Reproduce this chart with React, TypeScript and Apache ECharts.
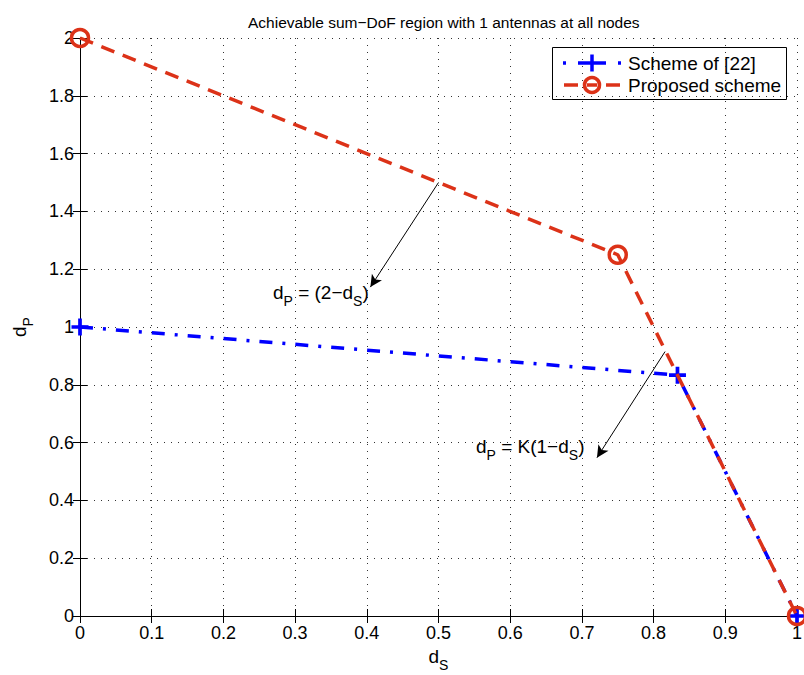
import React, { useEffect, useRef } from "react";
import * as echarts from "echarts";

// Achievable sum-DoF corner points (d_S, d_P)
const schemeDs = [0, 0.8333, 1];
const schemeDp = [1, 0.8333, 0];
const proposedDs = [0, 0.75, 1];
const proposedDp = [2, 1.25, 0];

// Annotation arrows: [from, to] in data coordinates
const arrowFrom = [
  [0.5, 1.5],
  [0.816, 0.915],
];
const arrowTo = [
  [0.405, 1.138],
  [0.721, 0.548],
];

const titleText = "Achievable sum\u2212DoF region with 1 antennas at all nodes";
const legendNames = ["Scheme of [22]", "Proposed scheme"];

const FONT = "'Liberation Sans', Arial, Helvetica, sans-serif";
const BLUE = "#0000ff";
const RED = "#dc3218";

const plusPath =
  "path://M0 6.25 L16 6.25 L16 9.75 L0 9.75 Z M6.25 0 L9.75 0 L9.75 16 L6.25 16 Z";

const subRich = {
  n: { fontSize: 19, lineHeight: 32, fontFamily: FONT, color: "#000" },
  s: {
    fontSize: 14,
    lineHeight: 14,
    verticalAlign: "bottom",
    fontFamily: FONT,
    color: "#000",
  },
};

export default function App() {
  const ref = useRef<HTMLDivElement>(null);

  useEffect(() => {
    if (!ref.current) return;
    const chart = echarts.init(ref.current, undefined, { renderer: "svg" });

    const axisCommon = {
      type: "value" as const,
      axisLine: { show: true, lineStyle: { color: "#000", width: 1 } },
      axisTick: {
        show: true,
        inside: true,
        length: 7,
        lineStyle: { color: "#000", width: 1 },
      },
    };

    const legendX0 = 564;
    const legendX1 = 620;
    const legendCx = 592;
    const row1 = 63;
    const row2 = 85;

    const option: any = {
      animation: false,
      backgroundColor: "#fff",
      textStyle: { fontFamily: FONT },
      title: {
        text: titleText,
        left: 243,
        top: 9,
        textStyle: {
          fontSize: 15.5,
          fontWeight: "normal",
          color: "#000",
          fontFamily: FONT,
        },
      },
      grid: {
        left: 80,
        top: 38,
        width: 717,
        height: 578,
        containLabel: false,
        outerBoundsMode: "none",
      },
      xAxis: [
        {
          ...axisCommon,
          position: "bottom",
          min: 0,
          max: 1,
          interval: 0.1,
          axisLabel: { fontSize: 18, color: "#000", margin: 8, fontFamily: FONT },
          splitLine: {
            show: true,
            lineStyle: { color: "#333", width: 1, type: [1, 6] },
          },
          name: "{n|d}{s|S}",
          nameLocation: "middle",
          nameGap: 22,
          nameTextStyle: { rich: subRich },
        },
        {
          ...axisCommon,
          position: "top",
          min: 0,
          max: 1,
          interval: 0.1,
          axisLabel: { show: false },
          splitLine: { show: false },
        },
      ],
      yAxis: [
        {
          ...axisCommon,
          position: "left",
          min: 0,
          max: 2,
          interval: 0.2,
          axisLabel: { fontSize: 18, color: "#000", margin: 6, fontFamily: FONT },
          splitLine: {
            show: true,
            lineStyle: { color: "#333", width: 1, type: [1, 6] },
          },
          name: "{n|d}{s|P}",
          nameLocation: "middle",
          nameGap: 45,
          nameRotate: 90,
          nameTextStyle: { rich: subRich },
        },
        {
          ...axisCommon,
          position: "right",
          min: 0,
          max: 2,
          interval: 0.2,
          axisLabel: { show: false },
          splitLine: { show: false },
        },
      ],
      series: [
        {
          name: legendNames[0],
          type: "line",
          xAxisIndex: 0,
          yAxisIndex: 0,
          data: schemeDs.map((x, i) => [x, schemeDp[i]]),
          clip: false,
          symbol: plusPath,
          symbolSize: 17,
          showAllSymbol: true,
          itemStyle: { color: BLUE },
          lineStyle: { color: BLUE, width: 3.5, type: [13, 10, 3, 10], cap: "butt" },
          emphasis: { disabled: true },
          z: 3,
        },
        {
          name: legendNames[1],
          type: "line",
          xAxisIndex: 0,
          yAxisIndex: 0,
          data: proposedDs.map((x, i) => [x, proposedDp[i]]),
          clip: false,
          symbol: "circle",
          symbolSize: 17,
          showAllSymbol: true,
          itemStyle: { color: "rgba(0,0,0,0)", borderColor: RED, borderWidth: 3.5 },
          lineStyle: { color: RED, width: 3.5, type: [14, 9], cap: "butt" },
          emphasis: { disabled: true },
          z: 4,
          markLine: {
            silent: true,
            symbol: ["none", "arrow"],
            symbolSize: [9, 12],
            lineStyle: { color: "#000", width: 1, type: "solid" },
            label: { show: false },
            emphasis: { disabled: true },
            data: arrowFrom.map((f, i) => [{ coord: f }, { coord: arrowTo[i] }]),
          },
        },
      ],
      graphic: [
        {
          type: "text",
          x: 273,
          y: 292,
          style: {
            text: "{n|d}{s|P}{n| = (2\u2212d}{s|S}{n|)}",
            rich: subRich,
            verticalAlign: "middle",
          },
          z: 50,
        },
        {
          type: "text",
          x: 476,
          y: 446,
          style: {
            text: "{n|d}{s|P}{n| = K(1\u2212d}{s|S}{n|)}",
            rich: subRich,
            verticalAlign: "middle",
          },
          z: 50,
        },
        // legend box
        {
          type: "group",
          z: 100,
          children: [
            {
              type: "rect",
              shape: { x: 552.5, y: 47.5, width: 234, height: 52 },
              style: { fill: "#fff", stroke: "#000", lineWidth: 1 },
            },
            // blue dash-dot sample
            {
              type: "rect",
              shape: { x: legendX0 - 1, y: row1 - 1.75, width: 3, height: 3.5 },
              style: { fill: BLUE },
            },
            {
              type: "line",
              shape: { x1: legendX0 + 14, y1: row1, x2: legendX1 - 14, y2: row1 },
              style: { stroke: BLUE, lineWidth: 3.5 },
            },
            {
              type: "rect",
              shape: { x: legendX1 - 2, y: row1 - 1.75, width: 3, height: 3.5 },
              style: { fill: BLUE },
            },
            {
              type: "line",
              shape: { x1: legendCx, y1: row1 - 8.5, x2: legendCx, y2: row1 + 8.5 },
              style: { stroke: BLUE, lineWidth: 3.5 },
            },
            // red dashed sample
            {
              type: "line",
              shape: { x1: legendX0, y1: row2, x2: legendX0 + 14, y2: row2 },
              style: { stroke: RED, lineWidth: 3.5 },
            },
            {
              type: "line",
              shape: { x1: legendX1 - 14, y1: row2, x2: legendX1, y2: row2 },
              style: { stroke: RED, lineWidth: 3.5 },
            },
            {
              type: "line",
              shape: { x1: legendCx - 5, y1: row2, x2: legendCx + 5, y2: row2 },
              style: { stroke: RED, lineWidth: 3.5 },
            },
            {
              type: "circle",
              shape: { cx: legendCx, cy: row2, r: 7.5 },
              style: { fill: "none", stroke: RED, lineWidth: 3.5 },
            },
            {
              type: "text",
              x: 628,
              y: row1,
              style: {
                text: legendNames[0],
                fontSize: 19,
                fontFamily: FONT,
                fill: "#000",
                verticalAlign: "middle",
              },
            },
            {
              type: "text",
              x: 628,
              y: row2,
              style: {
                text: legendNames[1],
                fontSize: 19,
                fontFamily: FONT,
                fill: "#000",
                verticalAlign: "middle",
              },
            },
          ],
        },
      ],
    };

    chart.setOption(option);
    return () => chart.dispose();
  }, []);

  return (
    <div
      ref={ref}
      style={{ position: "absolute", left: 0, top: 0, width: 804, height: 675 }}
    />
  );
}
